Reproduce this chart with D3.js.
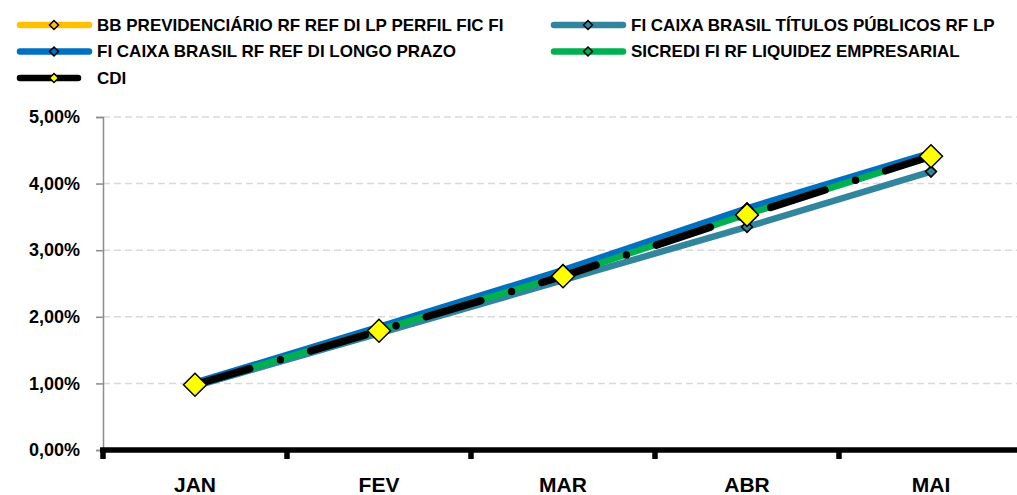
<!DOCTYPE html>
<html>
<head>
<meta charset="utf-8">
<script src="https://cdn.jsdelivr.net/npm/d3@7"></script>
<style>
  body { margin: 0; background: #fff; }
  svg text { font-family: "Liberation Sans", Arial, sans-serif; font-weight: bold; fill: #000; }
</style>
</head>
<body>
<div id="chart"></div>
<script>
const wh = 1017,
    ht = 495;

// data (monthly accumulated return, %)
const months = ["JAN", "FEV", "MAR", "ABR", "MAI"];
const seriesNames = [
    "BB PREVIDENCIÁRIO RF REF DI LP PERFIL FIC FI",
    "FI CAIXA BRASIL TÍTULOS PÚBLICOS RF LP",
    "FI CAIXA BRASIL RF REF DI LONGO PRAZO",
    "SICREDI FI RF LIQUIDEZ EMPRESARIAL",
    "CDI"
];
const bbPrev = [0.99, 1.82, 2.66, 3.58, 4.43];
const caixaTitulos = [0.96, 1.75, 2.55, 3.35, 4.18];
const caixaRefDi = [1.01, 1.85, 2.70, 3.63, 4.46];
const sicredi = [0.98, 1.80, 2.62, 3.54, 4.41];
const cdi = [0.98, 1.79, 2.61, 3.53, 4.41];
const yTicks = [0, 1, 2, 3, 4, 5];

const colors = ["#FFC000", "#31859C", "#0070C0", "#00B050", "#000000"];
const allValues = [bbPrev, caixaTitulos, caixaRefDi, sicredi, cdi];

const series = seriesNames.map(function(name, i) {
    return { name: name, color: colors[i], values: allValues[i], cdi: name === "CDI" };
});

const margin = { left: 103, right: wh - 1023, top: 117, bottom: ht - 450 };

const svg = d3.select("#chart")
    .append("svg")
    .attr("width", wh)
    .attr("height", ht);

var x = d3.scaleBand()
    .domain(months)
    .range([margin.left, 1023])
    .padding(0);

var y = d3.scaleLinear()
    .domain([0, 5])
    .range([450, margin.top]);

// gridlines
svg.append("g")
    .selectAll("line")
    .data(yTicks.filter(function(d) { return d > 0; }))
    .enter()
    .append("line")
    .attr("x1", margin.left)
    .attr("x2", wh)
    .attr("y1", function(d) { return y(d); })
    .attr("y2", function(d) { return y(d); })
    .attr("stroke", "#D9D9D9")
    .attr("stroke-width", 1.5)
    .attr("stroke-dasharray", "7,4");

// y axis
var yAxis = d3.axisLeft(y)
    .tickValues(yTicks)
    .tickSize(7)
    .tickPadding(16)
    .tickFormat(function(d) { return d3.format(".2f")(d).replace(".", ",") + "%"; });

var gy = svg.append("g")
    .attr("transform", "translate(" + margin.left + ",0)")
    .call(yAxis);
gy.select(".domain").attr("stroke", "#8C8C8C").attr("stroke-width", 1.5);
gy.selectAll(".tick line").attr("stroke", "#8C8C8C").attr("stroke-width", 1.5);
gy.selectAll(".tick text").style("font-size", "18px");

// x axis
var gx = svg.append("g")
    .attr("transform", "translate(0,450)");
gx.append("line")
    .attr("x1", margin.left - 3)
    .attr("x2", wh)
    .attr("stroke", "#000")
    .attr("stroke-width", 5.5);
gx.selectAll(".xtick")
    .data(months.concat(["end"]))
    .enter()
    .append("line")
    .attr("class", "xtick")
    .attr("x1", function(d, i) { return margin.left + i * x.bandwidth(); })
    .attr("x2", function(d, i) { return margin.left + i * x.bandwidth(); })
    .attr("y1", 0)
    .attr("y2", 9)
    .attr("stroke", "#000")
    .attr("stroke-width", 5.5);
gx.selectAll(".xlabel")
    .data(months)
    .enter()
    .append("text")
    .attr("class", "xlabel")
    .attr("x", function(d) { return x(d) + x.bandwidth() / 2; })
    .attr("y", 41.5)
    .attr("text-anchor", "middle")
    .style("font-size", "21px")
    .text(function(d) { return d; });

var line = d3.line()
    .x(function(d, i) { return x(months[i]) + x.bandwidth() / 2; })
    .y(function(d) { return y(d); });

function diamond(r) {
    return "M0," + (-r) + "L" + r + ",0L0," + r + "L" + (-r) + ",0Z";
}

// lines
series.forEach(function(s) {
    svg.append("path")
        .datum(s.values)
        .attr("d", line)
        .attr("fill", "none")
        .attr("stroke", s.color)
        .attr("stroke-width", s.cdi ? 7.5 : 6.5)
        .attr("stroke-linecap", "round")
        .attr("stroke-linejoin", "round")
        .attr("stroke-dasharray", s.cdi ? "57,32,0,31.5" : null);
});

// markers
series.forEach(function(s) {
    svg.append("g")
        .selectAll("path")
        .data(s.values)
        .enter()
        .append("path")
        .attr("transform", function(d, i) {
            return "translate(" + (x(months[i]) + x.bandwidth() / 2) + "," + y(d) + ")";
        })
        .attr("d", s.cdi ? diamond(11.5) : diamond(5.5))
        .attr("fill", s.cdi ? "#FFFF00" : s.color)
        .attr("stroke", "#000")
        .attr("stroke-width", 1.5);
});

// legend
var legend = svg.append("g")
    .selectAll("g")
    .data(series)
    .enter()
    .append("g")
    .attr("transform", function(d, i) {
        return "translate(" + (i % 2 === 0 ? 20 : 554) + "," + (25 + Math.floor(i / 2) * 26.5) + ")";
    });

legend.append("line")
    .attr("x1", 0)
    .attr("x2", function(d) { return d.cdi ? 58 : 69; })
    .attr("stroke", function(d) { return d.color; })
    .attr("stroke-width", 6.5)
    .attr("stroke-linecap", "round");

legend.append("path")
    .attr("transform", "translate(34,0)")
    .attr("d", diamond(4.5))
    .attr("fill", function(d) { return d.cdi ? "#FFFF00" : d.color; })
    .attr("stroke", "#000")
    .attr("stroke-width", 1.5);

legend.append("text")
    .attr("x", 77)
    .attr("dy", "0.35em")
    .style("font-size", "17px")
    .text(function(d) { return d.name; });
</script>
</body>
</html>
